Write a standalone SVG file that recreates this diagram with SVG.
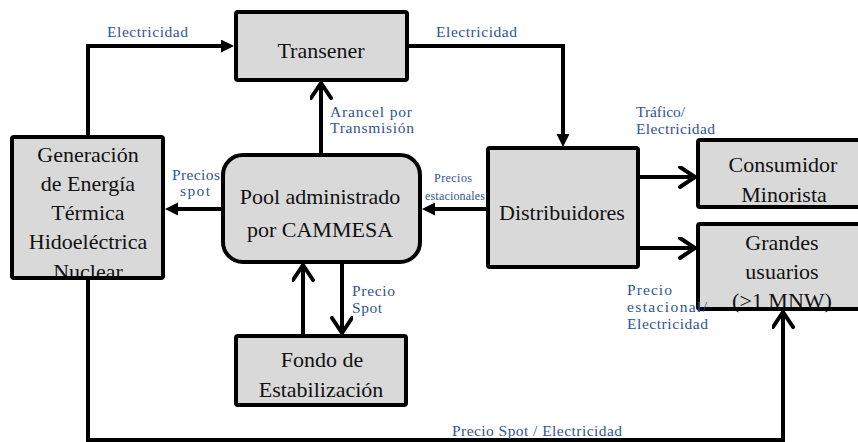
<svg xmlns="http://www.w3.org/2000/svg" width="858" height="442" viewBox="0 0 858 442">
<style>
.box{fill:#d9d9d9;stroke:#000;stroke-width:4}
.t{font-family:'Liberation Serif','Tinos','Times New Roman',serif;font-size:22px;fill:#111;text-anchor:middle}
.l{font-family:'Liberation Serif','Tinos','Times New Roman',serif;font-size:15.5px;fill:#2f5597}
.s{font-family:'Liberation Serif','Tinos','Times New Roman',serif;font-size:12px;fill:#2f5597}
.c{fill:none;stroke:#000;stroke-width:4}
</style>
<defs>
<marker id="tri" markerUnits="userSpaceOnUse" markerWidth="14" markerHeight="14" refX="4" refY="6.5" orient="auto">
<path d="M0,0 L13,6.5 L0,13 z" fill="#000"/>
</marker>
<marker id="chev" markerUnits="userSpaceOnUse" markerWidth="24" markerHeight="26" refX="17" refY="11" orient="auto">
<path d="M2,1 L17,11 L2,21" fill="none" stroke="#000" stroke-width="4" stroke-linecap="round"/>
</marker>
</defs>
<rect width="858" height="442" fill="#fff"/>

<g id="transener">
<rect class="box" x="236" y="12" width="171" height="68" rx="2"/>
<text class="t" x="321" y="58">Transener</text>
</g>

<g id="generacion">
<rect x="12" y="137" width="151" height="141" fill="#d9d9d9"/>
<text class="t" x="88" y="162">Generación</text>
<text class="t" x="88" y="191">de Energía</text>
<text class="t" x="88" y="220">Térmica</text>
<text class="t" x="88" y="249">Hidoeléctrica</text>
<text class="t" x="88" y="279">Nuclear</text>
<rect x="12" y="137" width="151" height="141" rx="2" fill="none" stroke="#000" stroke-width="4"/>
</g>

<g id="pool">
<rect class="box" x="223" y="155" width="197" height="107" rx="20"/>
<text class="t" x="320" y="204">Pool administrado</text>
<text class="t" x="320" y="237">por CAMMESA</text>
</g>

<g id="distribuidores">
<rect class="box" x="488" y="148" width="150" height="119" rx="2"/>
<text class="t" x="562" y="220">Distribuidores</text>
</g>

<g id="consumidor">
<rect class="box" x="698" y="140" width="175" height="67" rx="2"/>
<text class="t" x="783" y="172">Consumidor</text>
<text class="t" x="784" y="202">Minorista</text>
</g>

<g id="grandes">
<rect x="698" y="224" width="175" height="85" fill="#d9d9d9"/>
<text class="t" x="782" y="250">Grandes</text>
<text class="t" x="782" y="279">usuarios</text>
<text class="t" x="782" y="308">(&gt;1 MNW)</text>
<rect x="698" y="224" width="175" height="85" rx="2" fill="none" stroke="#000" stroke-width="4"/>
</g>

<g id="fondo">
<rect class="box" x="236" y="336" width="170" height="69" rx="2"/>
<text class="t" x="322" y="367">Fondo de</text>
<text class="t" x="321" y="397">Estabilización</text>
</g>

<g id="connectors">
<path class="c" d="M88,137 V46 H225" marker-end="url(#tri)"/>
<path class="c" d="M407,46 H563 V138" marker-end="url(#tri)"/>
<path class="c" d="M321,155 V83" marker-end="url(#chev)"/>
<path class="c" d="M223,209 H174" marker-end="url(#tri)"/>
<path class="c" d="M488,209 H431" marker-end="url(#tri)"/>
<path class="c" d="M638,177 H695" marker-end="url(#chev)"/>
<path class="c" d="M638,248 H695" marker-end="url(#chev)"/>
<path class="c" d="M303,336 V265" marker-end="url(#chev)"/>
<path class="c" d="M342,262 V333" marker-end="url(#chev)"/>
<path class="c" d="M88,278 V440 H783 V312" marker-end="url(#chev)"/>
<text class="l" x="107" y="37" textLength="81" lengthAdjust="spacing">Electricidad</text>
<text class="l" x="436" y="37" textLength="81" lengthAdjust="spacing">Electricidad</text>
<text class="l" x="330" y="117" textLength="82" lengthAdjust="spacing">Arancel por</text>
<text class="l" x="330" y="133" textLength="84" lengthAdjust="spacing">Transmisión</text>
<text class="l" x="636" y="117" textLength="49" lengthAdjust="spacing">Tráfico/</text>
<text class="l" x="636" y="134" textLength="79" lengthAdjust="spacing">Electricidad</text>
<text class="l" x="172" y="180" textLength="48" lengthAdjust="spacing">Precios</text>
<text class="l" x="180" y="196" textLength="30" lengthAdjust="spacing">spot</text>
<text class="s" x="434" y="182" textLength="38" lengthAdjust="spacing">Precios</text>
<text class="s" x="425" y="200" textLength="60" lengthAdjust="spacing">estacionales</text>
<text class="l" x="352" y="296" textLength="43" lengthAdjust="spacing">Precio</text>
<text class="l" x="352" y="313" textLength="30" lengthAdjust="spacing">Spot</text>
<text class="l" x="627" y="295" textLength="45" lengthAdjust="spacing">Precio</text>
<text class="l" x="627" y="312" textLength="80" lengthAdjust="spacing">estacional/</text>
<text class="l" x="627" y="329" textLength="81" lengthAdjust="spacing">Electricidad</text>
<text class="l" x="452" y="436" textLength="170" lengthAdjust="spacing">Precio Spot / Electricidad</text>
</g>
</svg>
